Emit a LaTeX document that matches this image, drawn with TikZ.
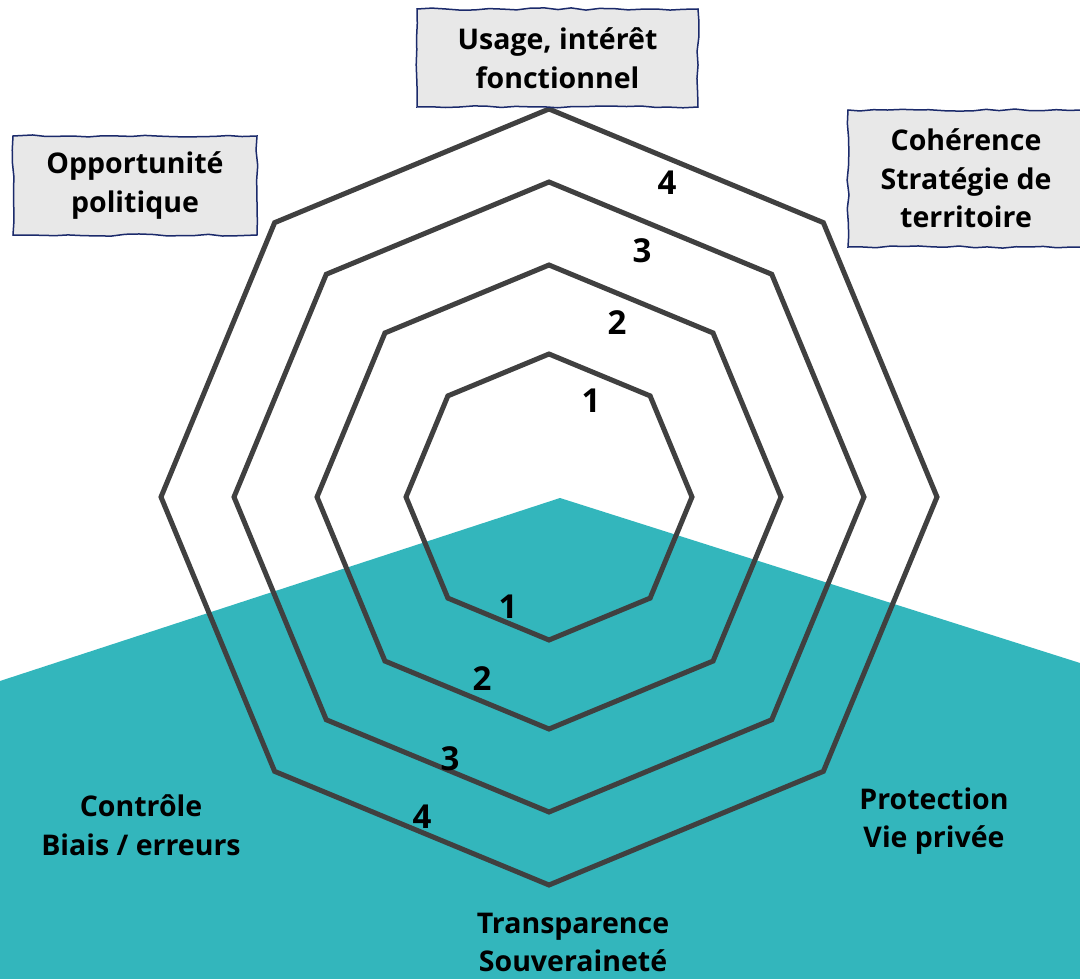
\documentclass[tikz,border=0pt]{standalone}
\usepackage{fontspec}
\setmainfont{Open Sans}[BoldFont={Open Sans Bold}]
\usetikzlibrary{decorations.pathmorphing,calc}
\definecolor{tealbg}{HTML}{33B6BC}
\definecolor{ring}{HTML}{404040}
\definecolor{boxfill}{HTML}{E8E8E8}
\definecolor{boxline}{HTML}{1B2A6B}
\begin{document}
\begin{tikzpicture}[x=1pt,y=-1pt,
  ringline/.style={draw=ring,line width=5pt,line join=miter},
  labelbox/.style={draw=boxline,fill=boxfill,line width=1.5pt,inner sep=0pt,
    decorate,decoration={random steps,segment length=14pt,amplitude=1.1pt},
    font=\bfseries\fontsize{28.5}{38.5}\selectfont,align=center},
  axislabel/.style={font=\bfseries\fontsize{28.5}{38.5}\selectfont,align=center,text=black},
  num/.style={font=\bfseries\fontsize{33}{33}\selectfont,text=black,inner sep=0pt}]
\pgfmathsetseed{7}
\useasboundingbox (0,0) rectangle (1080,979);
\fill[white] (0,0) rectangle (1080,979);
% teal background
\fill[tealbg] (0,681) -- (560,498) -- (1080,663) -- (1080,979) -- (0,979) -- cycle;
% rings
\coordinate (c) at (549,497);
\foreach \r in {143,232,315,388}{
  \draw[ringline] ($(c)+(0:\r)$) \foreach \a in {45,90,...,315}{ -- ($(c)+(\a:\r)$)} -- cycle;
}
% boxes
\node[labelbox,minimum width=281pt,minimum height=98pt] (usage) at (557.5,58) {Usage, intérêt\\fonctionnel};
\node[labelbox,minimum width=244pt,minimum height=99pt] (opport) at (135,185.5) {Opportunité\\politique};
\node[labelbox,minimum width=236pt,minimum height=137pt] (coher) at (966,178.5) {Cohérence\\Stratégie de\\territoire};
% axis labels
\node[axislabel] (ctrl) at (141,825) {Contrôle\\Biais / erreurs};
\node[axislabel] (prot) at (934,821) {Protection\\Vie privée};
\node[axislabel] (transp) at (573,942.5) {Transparence\\Souveraineté};
% numbers
\node[num] (u4) at (667,183) {4};
\node[num] (u3) at (642,251) {3};
\node[num] (u2) at (617,323) {2};
\node[num] (u1) at (591,401) {1};
\node[num] (d1) at (508,607) {1};
\node[num] (d2) at (482,679) {2};
\node[num] (d3) at (450,759) {3};
\node[num] (d4) at (422,817) {4};
\end{tikzpicture}
\end{document}
